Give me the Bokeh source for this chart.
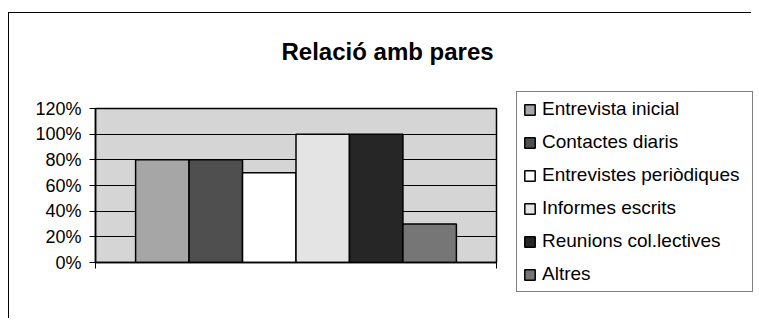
from bokeh.plotting import figure
from bokeh.models import (Range1d, FixedTicker, NumeralTickFormatter,
                          Legend, LegendItem)
from bokeh.layouts import row
from bokeh.embed import file_html
from bokeh.resources import INLINE

title = "Relació amb pares"
series = ["Entrevista inicial", "Contactes diaris", "Entrevistes periòdiques",
          "Informes escrits", "Reunions col.lectives", "Altres"]
values = [0.80, 0.80, 0.70, 1.00, 1.00, 0.30]
colors = ["#a6a6a6", "#4f4f4f", "#ffffff", "#e4e4e4", "#262626", "#767676"]
yticks = [0.0, 0.2, 0.4, 0.6, 0.8, 1.0, 1.2]

FONT = "Liberation Sans"
n = len(series)
gap = 1.5  # Excel gap width 150% (in bar widths), split on both sides
x0, x1 = -0.5 - gap / 2, n - 0.5 + gap / 2

# ---- main chart ----
p = figure(width=499, height=305, x_range=Range1d(x0, x1), y_range=Range1d(0, 1.2),
           output_backend="svg", toolbar_location=None,
           min_border_left=86, min_border_right=12, min_border_top=95,
           min_border_bottom=56)
p.background_fill_color = "#d5d5d5"
p.border_fill_color = "white"
p.outline_line_color = "black"
p.outline_line_width = 1.5

p.title.text = title + "\n"
p.title.align = "left"
p.title.offset = 186
p.title.vertical_align = "top"
p.title.standoff = 30
p.title.text_font = FONT
p.title.text_font_size = "24px"
p.title.text_font_style = "bold"
p.title.text_color = "black"

for i, s in enumerate(series):
    p.vbar(x=[i], top=[values[i]], width=1.0, fill_color=colors[i],
           line_color="black", line_width=1.5)

xa = p.xaxis[0]
xa.ticker = FixedTicker(ticks=[x0, x1])
xa.major_label_text_font_size = "0px"
xa.major_tick_out = 6
xa.major_tick_in = 0
xa.minor_tick_out = 0
xa.minor_tick_in = 0
xa.axis_line_color = "black"
xa.axis_line_width = 1.5

ya = p.yaxis[0]
ya.ticker = FixedTicker(ticks=yticks)
ya.formatter = NumeralTickFormatter(format="0%")
ya.major_label_text_font = FONT
ya.major_label_text_font_size = "18px"
ya.major_label_text_color = "black"
ya.major_tick_out = 6
ya.major_tick_in = 0
ya.minor_tick_out = 0
ya.minor_tick_in = 0
ya.major_label_standoff = 8
ya.axis_line_color = "black"
ya.axis_line_width = 1.5

p.xgrid.visible = False
p.ygrid.grid_line_color = "black"
p.ygrid.grid_line_width = 1
p.ygrid.ticker = FixedTicker(ticks=yticks)

# ---- legend panel ----
q = figure(width=243, height=305, x_range=Range1d(0, 1), y_range=Range1d(0, 1),
           output_backend="svg", toolbar_location=None,
           x_axis_location=None, y_axis_location=None,
           min_border_left=0, min_border_right=0, min_border_top=95,
           min_border_bottom=56)
q.grid.visible = False
q.background_fill_color = "white"
q.border_fill_color = "white"
q.outline_line_color = None

items = []
for i, s in enumerate(series):
    # legend swatch renderers (kept outside the visible range of this panel)
    r = q.vbar(x=[0.5], top=[3.0], bottom=[2.0], width=0.1, fill_color=colors[i],
               line_color="black", line_width=1.5)
    items.append(LegendItem(label=s, renderers=[r]))

legend = Legend(items=items, location=(8, -30), orientation="vertical",
                label_text_font=FONT, label_text_font_size="19px",
                label_text_color="black", label_height=22, label_width=204,
                glyph_width=13, glyph_height=13, label_standoff=6,
                spacing=11, padding=6, margin=0,
                border_line_color="black", border_line_width=1,
                background_fill_color="white", background_fill_alpha=1)
q.add_layout(legend, "left")

layout = row(p, q, spacing=0)
layout.styles = {"border-left": "1px solid #000", "border-top": "1px solid #000",
                 "margin-top": "12px", "margin-left": "8px"}

open("out.html", "w").write(file_html(layout, INLINE))
